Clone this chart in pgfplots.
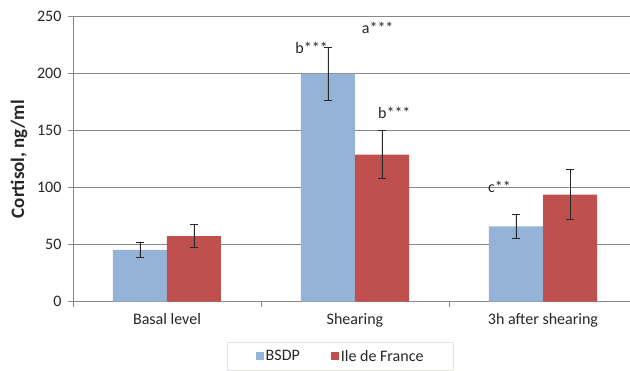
\documentclass[border=0pt]{standalone}
\usepackage{fontspec}
\setmainfont{Carlito}
\usepackage{pgfplots}
\pgfplotsset{compat=1.18}
\definecolor{bsdp}{HTML}{95B3D7}
\definecolor{idf}{HTML}{C0504D}
\definecolor{gridc}{HTML}{878787}
\definecolor{legc}{HTML}{E4E4DC}
\definecolor{txt}{HTML}{262626}
\begin{document}
\begin{tikzpicture}
\begin{axis}[
  at={(0pt,0pt)}, anchor=south west,
  scale only axis, width=564pt, height=285pt,
  xmin=-0.5, xmax=2.5, ymin=0, ymax=250,
  ybar=0pt, bar width=54pt,
  xtick={0,1,2}, xticklabels={Basal level, Shearing, 3h after shearing},
  minor xtick={-0.5,0.5,1.5,2.5},
  major x tick style={draw=none},
  ytick={0,50,100,150,200,250},
  tick align=outside,
  tick style={gridc, line width=0.8pt},
  major tick length=5pt, minor tick length=5pt,
  axis x line*=bottom, axis y line*=left,
  axis line style={gridc, line width=0.8pt, -},
  ymajorgrids, grid style={gridc, line width=0.8pt},
  /pgf/number format/assume math mode=true,
  ticklabel style={font=\fontsize{16}{19}\selectfont, text=txt},
  yticklabel style={xshift=-3pt},
  xticklabel style={yshift=-3pt},
  ylabel={Cortisol, ng/ml},
  ylabel style={at={(axis description cs:-0.0957,0.5)}, anchor=center, font=\fontsize{19}{22}\selectfont\bfseries, text=txt},
  legend columns=2,
  legend style={at={(axis description cs:0.2736,-0.1404)}, anchor=north west, draw=legc, line width=0.8pt,
    font=\fontsize{16}{19}\selectfont, text=txt, inner xsep=28pt, inner ysep=6pt,
    /tikz/every even column/.append style={column sep=29pt}},
  legend image code/.code={\fill[#1] (0pt,-4pt) rectangle (8pt,4pt);},
  error bars/y dir=both, error bars/y explicit,
  error bars/error mark options={rotate=90, mark size=4pt, line width=0.8pt, txt},
  error bars/error bar style={line width=0.8pt, txt},
]
\addplot[fill=bsdp, draw=none] coordinates {(0,45.4) +- (0,6.3) (1,200) +- (0,23) (2,66) +- (0,10.6)};
\addplot[fill=idf, draw=none] coordinates {(0,57.5) +- (0,10) (1,129) +- (0,21.2) (2,94) +- (0,22.2)};
\legend{BSDP, Ile de France}
\node[anchor=base east, inner sep=0pt, font=\fontsize{16}{19}\selectfont, text=txt] at (axis cs:0.856,218) {b***};
\node[anchor=base west, inner sep=0pt, font=\fontsize{16}{19}\selectfont, text=txt] at (axis cs:1.0356,235.4) {a***};
\node[anchor=base west, inner sep=0pt, font=\fontsize{16}{19}\selectfont, text=txt] at (axis cs:1.122,161) {b***};
\node[anchor=base west, inner sep=0pt, font=\fontsize{16}{19}\selectfont, text=txt] at (axis cs:1.707,96) {c**};
\end{axis}
\pgfresetboundingbox
\useasboundingbox (-73pt,-68.3pt) rectangle (557pt,301.7pt);
\end{tikzpicture}
\end{document}
